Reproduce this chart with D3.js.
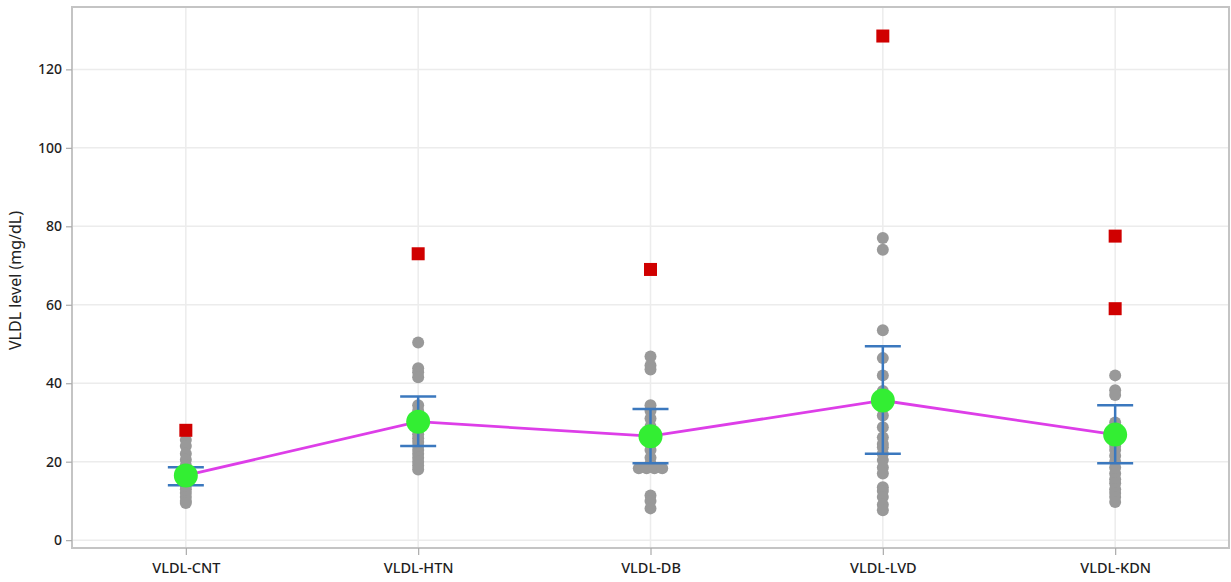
<!DOCTYPE html>
<html>
<head>
<meta charset="utf-8">
<script src="https://cdn.jsdelivr.net/npm/d3@7"></script>
<style>
  html, body { margin: 0; padding: 0; background: #fff; }
  svg { display: block; font-family: "Noto Sans", "Open Sans", sans-serif; }
</style>
</head>
<body>
<svg id="chart" width="1231" height="582"></svg>
<script>
// Groups shown along the x axis
const categories = ["VLDL-CNT", "VLDL-HTN", "VLDL-DB", "VLDL-LVD", "VLDL-KDN"];

// Individual measurements per group (mg/dL)
const valuesCNT = [25.5, 24, 22, 20.5, 19, 18, 17, 16, 15, 14, 13, 12, 11, 10, 9.5];
const valuesHTN = [50.4, 43.8, 42.8, 41.5, 34.4, 33, 27, 26, 25, 24, 23, 22, 21, 20, 19, 18];
const valuesDB  = [46.8, 44.5, 43.5, 34.4, 33, 31, 29, 27, 25, 23, 21, 19.5, 18.3, 18.3, 18.3, 18.3, 11.4, 10, 8.1];
const valuesLVD = [77, 74, 53.5, 46.4, 42, 38, 35, 31.8, 28.8, 26.2, 24.5, 23.7, 22, 20.4, 18.5, 17, 13.5, 12.5, 11, 9, 7.6];
const valuesKDN = [42, 38.2, 37, 30, 28, 26, 24, 23, 21.5, 20, 18.5, 17, 15.5, 14.5, 13, 12, 11, 9.7];
// Horizontal nudges (in dot widths) for values that sit side by side
const nudgeDB   = [0, 0, 0, 0, 0, 0, 0, 0, 0, 0, 0, 0, -1.5, -0.5, 0.5, 1.5, 0, 0, 0];

// Outliers per group
const outliers = [[28], [73], [69], [128.5], [77.5, 59]];

// Group means and interval bounds
const means = [16.5, 30.2, 26.5, 35.6, 26.9];
const upper = [18.6, 36.6, 33.4, 49.4, 34.4];
const lower = [14.0, 24.0, 19.6, 22.0, 19.6];

// Y axis tick values
const yTicks = [0, 20, 40, 60, 80, 100, 120];

const groups = [valuesCNT, valuesHTN, valuesDB, valuesLVD, valuesKDN];
const nudges = [null, null, nudgeDB, null, null];

const svg = d3.select("#chart");
const plot = { left: 72, right: 1229, top: 7, bottom: 548 };

const x = d3.scalePoint()
  .domain(categories)
  .range([plot.left, plot.right])
  .padding(0.49);

const y = d3.scaleLinear()
  .domain([-2, 135.9])
  .range([plot.bottom, plot.top]);

// Gridlines
const grid = svg.append("g");
grid.selectAll("line.h")
  .data(yTicks)
  .join("line")
  .attr("x1", plot.left).attr("x2", plot.right)
  .attr("y1", d => y(d)).attr("y2", d => y(d))
  .attr("stroke", "#ececec").attr("stroke-width", 1.5);
grid.selectAll("line.v")
  .data(categories)
  .join("line")
  .attr("x1", d => x(d)).attr("x2", d => x(d))
  .attr("y1", plot.top).attr("y2", plot.bottom)
  .attr("stroke", "#ececec").attr("stroke-width", 1.5);

// Frame
svg.append("rect")
  .attr("x", plot.left).attr("y", plot.top)
  .attr("width", plot.right - plot.left).attr("height", plot.bottom - plot.top)
  .attr("fill", "none").attr("stroke", "#c4c4c4").attr("stroke-width", 2);

// Axes
const yAxis = svg.append("g")
  .attr("transform", `translate(${plot.left},0)`)
  .call(d3.axisLeft(y).tickValues(yTicks).tickSize(6).tickPadding(4));
const xAxis = svg.append("g")
  .attr("transform", `translate(0,${plot.bottom})`)
  .call(d3.axisBottom(x).tickSize(7).tickPadding(6));
[yAxis, xAxis].forEach(a => {
  a.select(".domain").remove();
  a.selectAll(".tick line").attr("stroke", "#aaa").attr("stroke-width", 1.2);
  a.selectAll(".tick text").attr("fill", "#1e1e1e")
    .style("font-family", "'Noto Sans', 'Open Sans', sans-serif")
    .style("font-size", "14px").style("font-weight", "500");
});
xAxis.selectAll(".tick text").attr("dy", "0.8em").style("font-size", "14.5px");

// Y axis title
svg.append("text")
  .attr("transform", `translate(21,${(plot.top + plot.bottom) / 2 + 3}) rotate(-90)`)
  .attr("text-anchor", "middle")
  .attr("fill", "#222")
  .style("font-size", "16px")
  .text("VLDL level (mg/dL)");

// Individual data points
const dotR = 6;
const dots = [];
groups.forEach((vals, i) => {
  vals.forEach((v, j) => {
    const n = nudges[i] ? nudges[i][j] : 0;
    dots.push({ cat: categories[i], v, n });
  });
});
svg.append("g").selectAll("circle")
  .data(dots)
  .join("circle")
  .attr("cx", d => x(d.cat) + d.n * dotR * 1.3)
  .attr("cy", d => y(d.v))
  .attr("r", dotR)
  .attr("fill", "#999999");

// Outliers
const outPts = [];
outliers.forEach((vals, i) => vals.forEach(v => outPts.push({ cat: categories[i], v })));
const sq = 13;
svg.append("g").selectAll("rect")
  .data(outPts)
  .join("rect")
  .attr("x", d => x(d.cat) - sq / 2)
  .attr("y", d => y(d.v) - sq / 2)
  .attr("width", sq).attr("height", sq)
  .attr("fill", "#d00000");

// Interval bars
const stats = categories.map((c, i) => ({ c, m: means[i], hi: upper[i], lo: lower[i] }));
const capW = 18;
const eb = svg.append("g").attr("stroke", "#3b78be").attr("stroke-width", 2.5);
eb.selectAll("line.stem").data(stats).join("line")
  .attr("x1", d => x(d.c)).attr("x2", d => x(d.c))
  .attr("y1", d => y(d.hi)).attr("y2", d => y(d.lo));
eb.selectAll("line.top").data(stats).join("line")
  .attr("x1", d => x(d.c) - capW).attr("x2", d => x(d.c) + capW)
  .attr("y1", d => y(d.hi)).attr("y2", d => y(d.hi));
eb.selectAll("line.bot").data(stats).join("line")
  .attr("x1", d => x(d.c) - capW).attr("x2", d => x(d.c) + capW)
  .attr("y1", d => y(d.lo)).attr("y2", d => y(d.lo));

// Mean connector
svg.append("path")
  .datum(stats)
  .attr("fill", "none")
  .attr("stroke", "#dd3ee8")
  .attr("stroke-width", 2.8)
  .attr("d", d3.line().x(d => x(d.c)).y(d => y(d.m)));

// Mean markers
svg.append("g").selectAll("circle")
  .data(stats)
  .join("circle")
  .attr("cx", d => x(d.c))
  .attr("cy", d => y(d.m))
  .attr("r", 12)
  .attr("fill", "#33ee33");
</script>
</body>
</html>
